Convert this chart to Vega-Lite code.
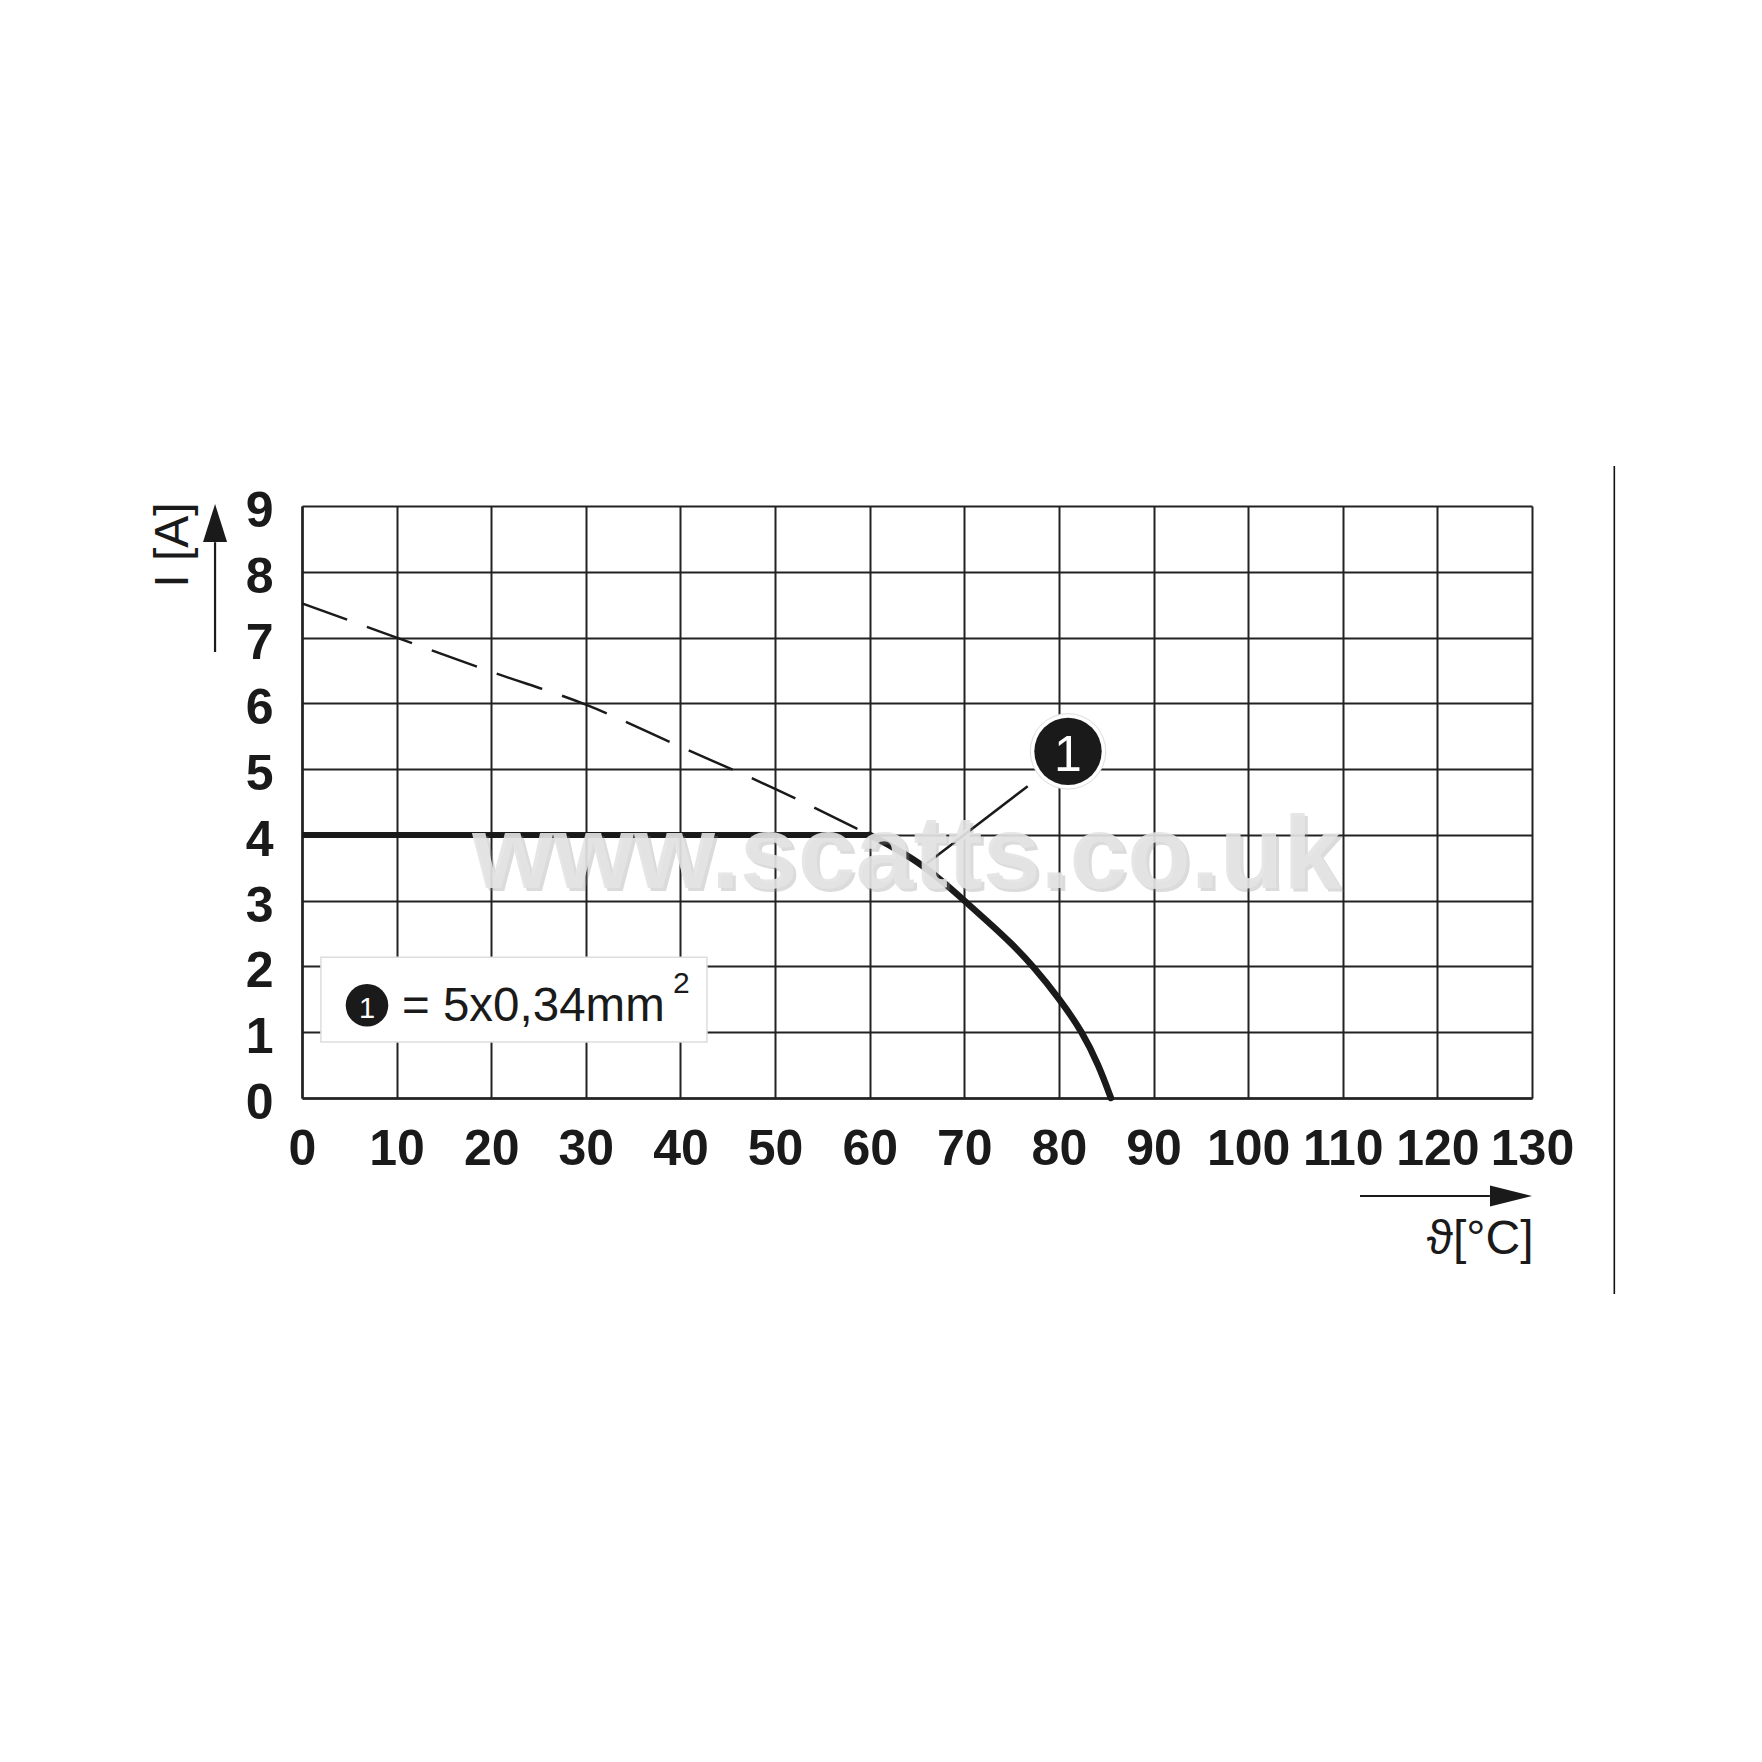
{
  "$schema": "https://vega.github.io/schema/vega-lite/v6.json",
  "width": 1230,
  "height": 592,
  "autosize": {"type": "none"},
  "padding": {"left": 302, "top": 506, "right": 230, "bottom": 664},
  "background": "white",
  "config": {"view": {"stroke": null}, "font": "Arial, 'Liberation Sans', sans-serif"},
  "datasets": {
    "box": [{"x": 2.0, "x2": 42.8, "y": 0.85, "y2": 2.14}],
    "dashed": [{"x": 0, "y": 7.52}, {"x": 10, "y": 7.0}, {"x": 20, "y": 6.48}, {"x": 30, "y": 5.98}, {"x": 40, "y": 5.34}, {"x": 50, "y": 4.7}, {"x": 60, "y": 4.0}],
    "flat": [{"x": 0, "y": 4}, {"x": 60, "y": 4}],
    "curve": [{"x": 60, "y": 4.0}, {"x": 62.5, "y": 3.81}, {"x": 65, "y": 3.6}, {"x": 67.5, "y": 3.32}, {"x": 70, "y": 3.0}, {"x": 72.5, "y": 2.68}, {"x": 75, "y": 2.35}, {"x": 77.3, "y": 2.0}, {"x": 80, "y": 1.52}, {"x": 82.5, "y": 1.0}, {"x": 84.2, "y": 0.5}, {"x": 85.5, "y": 0}],
    "leader": [{"x": 76.7, "y": 4.74}, {"x": 66.0, "y": 3.56}],
    "callout": [{"x": 80.96, "y": 5.27, "t": "1"}],
    "legdot": [{"x": 6.87, "y": 1.41, "t": "1"}],
    "legtext": [{"x": 10.57, "y": 1.17, "t": "= 5x0,34mm"}],
    "legsup": [{"x": 39.2, "y": 1.6, "t": "2"}],
    "yarrow": [{"x": -9.19, "y": 6.78, "y2": 8.45}],
    "yhead": [{"x": -9.19, "y": 8.741}],
    "xarrow": [{"x": 111.82, "x2": 125.55, "y": -1.49}],
    "xhead": [{"x": 127.78, "y": -1.49}],
    "frame": [{"x": 138.7, "y": -2.98, "y2": 9.61}],
    "wm": [{"x": 63.9, "y": 3.19, "t": "www.scatts.co.uk"}]
  },
  "encoding": {
    "x": {
      "field": "x", "type": "quantitative",
      "scale": {"domain": [0, 130], "nice": false, "zero": false},
      "axis": {
        "title": "ϑ[°C]",
        "values": [0, 10, 20, 30, 40, 50, 60, 70, 80, 90, 100, 110, 120, 130],
        "grid": true, "gridColor": "#222222", "gridWidth": 2, "gridOpacity": 1,
        "domainColor": "#222222", "domainWidth": 2.5,
        "ticks": false, "tickSize": 0,
        "labelFont": "Arial, 'Liberation Sans', sans-serif", "labelFontWeight": "bold", "labelFontSize": 50,
        "labelColor": "#1a1a1a", "labelPadding": 26, "labelOverlap": false, "labelFlush": false, "labelBound": false,
        "titleFont": "Arial, 'Liberation Sans', sans-serif", "titleFontSize": 48, "titleFontWeight": "normal", "titleColor": "#1a1a1a",
        "titleX": 1231, "titleY": 155, "titleAlign": "right", "titleBaseline": "alphabetic", "titleAngle": 0
      }
    },
    "y": {
      "field": "y", "type": "quantitative",
      "scale": {"domain": [0, 9], "nice": false, "zero": false},
      "axis": {
        "title": "I [A]",
        "values": [0, 1, 2, 3, 4, 5, 6, 7, 8, 9],
        "grid": true, "gridColor": "#222222", "gridWidth": 2, "gridOpacity": 1,
        "domainColor": "#222222", "domainWidth": 2.5,
        "ticks": false, "tickSize": 0,
        "labelFont": "Arial, 'Liberation Sans', sans-serif", "labelFontWeight": "bold", "labelFontSize": 50,
        "labelColor": "#1a1a1a", "labelPadding": 29, "labelOffset": 5.5, "labelOverlap": false, "labelFlush": false, "labelBound": false,
        "titleFont": "Arial, 'Liberation Sans', sans-serif", "titleFontSize": 48, "titleFontWeight": "normal", "titleColor": "#1a1a1a",
        "titleX": -115, "titleY": 38.5, "titleAlign": "center", "titleBaseline": "alphabetic", "titleAngle": 270
      }
    }
  },
  "layer": [
    {
      "data": {"name": "box"},
      "mark": {"type": "rect", "fill": "white", "stroke": "#dddddd", "strokeWidth": 1.5},
      "encoding": {"x2": {"field": "x2"}, "y2": {"field": "y2"}}
    },
    {
      "data": {"name": "leader"},
      "mark": {"type": "line", "color": "white", "strokeWidth": 8, "strokeCap": "butt"},
      "encoding": {}
    },
    {
      "data": {"name": "leader"},
      "mark": {"type": "line", "color": "#1a1a1a", "strokeWidth": 2.5, "strokeCap": "butt"},
      "encoding": {}
    },
    {
      "data": {"name": "dashed"},
      "mark": {"type": "line", "color": "#1a1a1a", "strokeWidth": 2.5, "strokeDash": [48, 21], "strokeCap": "butt", "interpolate": "monotone"},
      "encoding": {}
    },
    {
      "data": {"name": "flat"},
      "mark": {"type": "line", "color": "#1a1a1a", "strokeWidth": 6, "strokeCap": "butt"},
      "encoding": {}
    },
    {
      "data": {"name": "curve"},
      "mark": {"type": "line", "color": "#1a1a1a", "strokeWidth": 6.5, "strokeCap": "round", "strokeJoin": "round", "interpolate": "basis"},
      "encoding": {}
    },
    {
      "data": {"name": "callout"},
      "mark": {"type": "point", "shape": "circle", "filled": true, "fill": "white", "stroke": "#dddddd", "strokeWidth": 1, "size": 5700, "opacity": 1},
      "encoding": {}
    },
    {
      "data": {"name": "callout"},
      "mark": {"type": "point", "shape": "circle", "filled": true, "fill": "#1a1a1a", "strokeWidth": 0, "size": 4536, "opacity": 1},
      "encoding": {}
    },
    {
      "data": {"name": "callout"},
      "mark": {"type": "text", "font": "Arial, 'Liberation Sans', sans-serif", "fontSize": 50, "color": "white", "align": "center", "baseline": "middle", "dy": 4.7},
      "encoding": {"text": {"field": "t"}}
    },
    {
      "data": {"name": "legdot"},
      "mark": {"type": "point", "shape": "circle", "filled": true, "fill": "#1a1a1a", "strokeWidth": 0, "size": 1810, "opacity": 1},
      "encoding": {}
    },
    {
      "data": {"name": "legdot"},
      "mark": {"type": "text", "font": "Arial, 'Liberation Sans', sans-serif", "fontSize": 29, "color": "white", "align": "center", "baseline": "middle", "dy": 3.5},
      "encoding": {"text": {"field": "t"}}
    },
    {
      "data": {"name": "legtext"},
      "mark": {"type": "text", "font": "Arial, 'Liberation Sans', sans-serif", "fontSize": 47.5, "color": "#1a1a1a", "align": "left", "baseline": "alphabetic"},
      "encoding": {"text": {"field": "t"}}
    },
    {
      "data": {"name": "legsup"},
      "mark": {"type": "text", "font": "Arial, 'Liberation Sans', sans-serif", "fontSize": 30, "color": "#1a1a1a", "align": "left", "baseline": "alphabetic"},
      "encoding": {"text": {"field": "t"}}
    },
    {
      "data": {"name": "yarrow"},
      "mark": {"type": "rule", "color": "#1a1a1a", "strokeWidth": 2.2},
      "encoding": {"y2": {"field": "y2"}}
    },
    {
      "data": {"name": "yhead"},
      "mark": {"type": "point", "shape": "M0,-1L0.632,1L-0.632,1Z", "filled": true, "fill": "#1a1a1a", "strokeWidth": 0, "size": 1444, "opacity": 1},
      "encoding": {}
    },
    {
      "data": {"name": "xarrow"},
      "mark": {"type": "rule", "color": "#1a1a1a", "strokeWidth": 2.2},
      "encoding": {"x2": {"field": "x2"}}
    },
    {
      "data": {"name": "xhead"},
      "mark": {"type": "point", "shape": "M1,0L-1,-0.5L-1,0.5Z", "filled": true, "fill": "#1a1a1a", "strokeWidth": 0, "size": 1764, "opacity": 1},
      "encoding": {}
    },
    {
      "data": {"name": "frame"},
      "mark": {"type": "rule", "color": "#111111", "strokeWidth": 1.6},
      "encoding": {"y2": {"field": "y2"}}
    },
    {
      "data": {"name": "wm"},
      "mark": {"type": "text", "font": "Arial, 'Liberation Sans', sans-serif", "fontWeight": "bold", "fontSize": 104, "color": "#8a8a8a", "opacity": 0.3, "align": "center", "baseline": "alphabetic", "dx": 3, "dy": 3},
      "encoding": {"text": {"field": "t"}}
    },
    {
      "data": {"name": "wm"},
      "mark": {"type": "text", "font": "Arial, 'Liberation Sans', sans-serif", "fontWeight": "bold", "fontSize": 104, "color": "#e4e4e4", "opacity": 0.9, "align": "center", "baseline": "alphabetic"},
      "encoding": {"text": {"field": "t"}}
    }
  ]
}
